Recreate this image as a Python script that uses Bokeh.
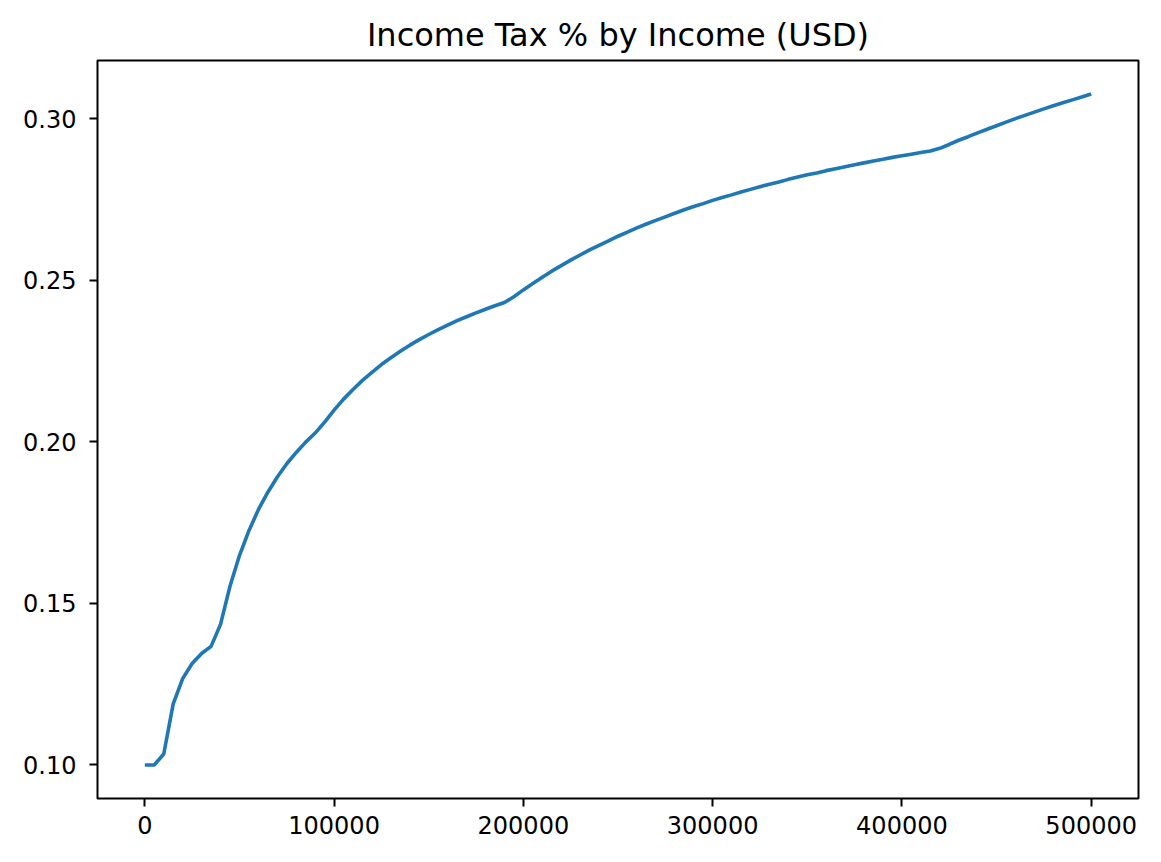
from bokeh.plotting import figure
from bokeh.models import Range1d, FixedTicker, NumeralTickFormatter
from bokeh.embed import file_html
from bokeh.resources import INLINE

income = list(range(0, 500001, 5000))
tax_rate = [
    0.1000, 0.1000, 0.1034, 0.1189, 0.1267, 0.1314, 0.1345, 0.1367, 0.1435, 0.1553,
    0.1648, 0.1725, 0.1790, 0.1844, 0.1891, 0.1932, 0.1967, 0.1999, 0.2027, 0.2061,
    0.2098, 0.2132, 0.2162, 0.2190, 0.2215, 0.2239, 0.2260, 0.2280, 0.2299, 0.2316,
    0.2332, 0.2347, 0.2361, 0.2375, 0.2387, 0.2399, 0.2410, 0.2421, 0.2431, 0.2449,
    0.2470, 0.2490, 0.2509, 0.2528, 0.2545, 0.2562, 0.2578, 0.2594, 0.2608, 0.2622,
    0.2636, 0.2649, 0.2662, 0.2674, 0.2685, 0.2696, 0.2707, 0.2718, 0.2728, 0.2737,
    0.2747, 0.2756, 0.2764, 0.2773, 0.2781, 0.2789, 0.2797, 0.2804, 0.2812, 0.2819,
    0.2826, 0.2832, 0.2839, 0.2845, 0.2851, 0.2857, 0.2863, 0.2869, 0.2874, 0.2880,
    0.2885, 0.2890, 0.2895, 0.2900, 0.2908, 0.2920, 0.2933, 0.2944, 0.2956, 0.2967,
    0.2978, 0.2989, 0.3000, 0.3010, 0.3020, 0.3030, 0.3040, 0.3049, 0.3058, 0.3067,
    0.3076,
]
x_ticks = [0, 100000, 200000, 300000, 400000, 500000]
y_ticks = [0.10, 0.15, 0.20, 0.25, 0.30]
title_text = "Income Tax % by Income (USD)"

xmin, xmax = min(income), max(income)
ymin, ymax = min(tax_rate), max(tax_rate)
xm = (xmax - xmin) * 0.05
ym = (ymax - ymin) * 0.05

p = figure(
    width=1153, height=854,
    output_backend="svg", toolbar_location=None,
    x_range=Range1d(xmin - xm, xmax + xm),
    y_range=Range1d(ymin - ym, ymax + ym),
    min_border_left=97, min_border_right=15,
    min_border_top=60, min_border_bottom=56,
    title=title_text,
)
p.background_fill_color = "white"
p.border_fill_color = "white"
p.outline_line_color = "black"
p.outline_line_width = 2
p.outline_line_alpha = 1.0

p.title.align = "center"
p.title.text_font = "DejaVu Sans"
p.title.text_font_size = "32px"
p.title.text_font_style = "normal"
p.title.text_color = "black"
p.title.standoff = 14

p.xgrid.grid_line_color = None
p.ygrid.grid_line_color = None

for ax in (p.xaxis[0], p.yaxis[0]):
    ax.axis_line_color = None
    ax.major_tick_out = 8
    ax.major_tick_in = 0
    ax.major_tick_line_width = 2
    ax.major_tick_line_color = "black"
    ax.minor_tick_line_color = None
    ax.major_label_text_font = "DejaVu Sans"
    ax.major_label_text_font_size = "24px"
    ax.major_label_text_color = "black"

p.xaxis[0].major_label_standoff = 9
p.yaxis[0].major_label_standoff = 13

p.xaxis[0].ticker = FixedTicker(ticks=x_ticks)
p.xaxis[0].formatter = NumeralTickFormatter(format="0")
p.yaxis[0].ticker = FixedTicker(ticks=y_ticks)
p.yaxis[0].formatter = NumeralTickFormatter(format="0.00")

p.line(income, tax_rate, line_color="#1f77b4", line_width=3.6)

open("out.html", "w").write(file_html(p, INLINE))
